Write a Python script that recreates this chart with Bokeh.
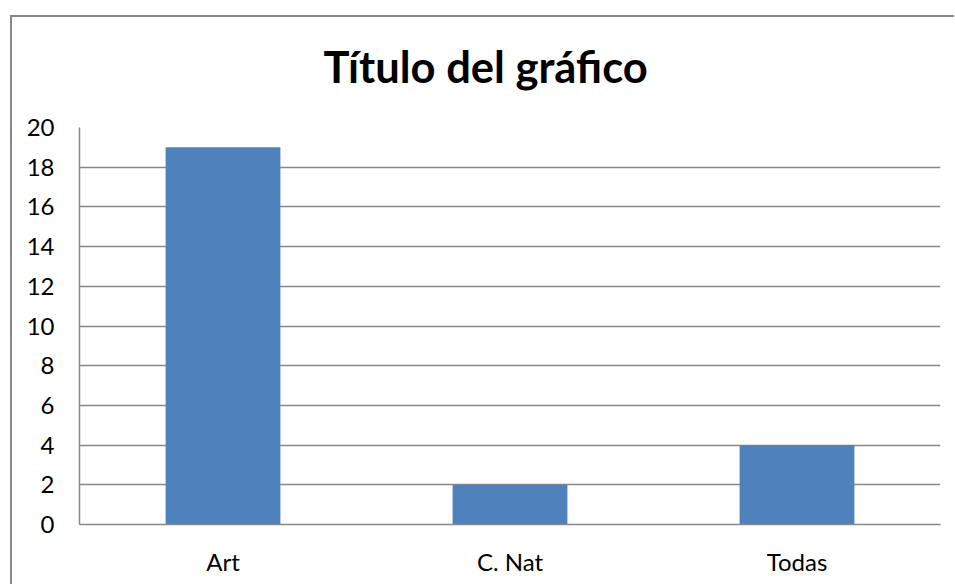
from bokeh.plotting import figure
from bokeh.embed import file_html
from bokeh.resources import INLINE
from bokeh.models import FactorRange, Range1d, SingleIntervalTicker

categories = ["Art", "C. Nat", "Todas"]
values = [19, 2, 4]
title_text = "Título del gráfico"

GRAY = "#888888"
FONT = "Lato"

p = figure(
    x_range=FactorRange(*categories, range_padding=0),
    y_range=Range1d(0, 20),
    width=954, height=584,
    output_backend="svg", toolbar_location=None,
    title=title_text,
    min_border_left=79, min_border_right=14, min_border_top=127, min_border_bottom=60,
)
p.margin = 0
p.background_fill_color = None
p.border_fill_color = None
p.toolbar.logo = None
# chart-area frame (left and top edges; right/bottom edges lie off-page)
p.styles = {
    "background-color": "white",
    "background-image": "linear-gradient(#878787, #878787), linear-gradient(#878787, #878787)",
    "background-size": "100% 2px, 2px 100%",
    "background-position": "10px 15px, 10px 15px",
    "background-repeat": "no-repeat",
    "overflow": "hidden",
}

p.vbar(x=categories, top=values, width=0.4, fill_color="#4F81BD", line_color=None)

p.title.align = "left"
p.title.offset = 244
p.title.vertical_align = "top"
p.title.standoff = 68
p.title.text_font = FONT
p.title.text_font_size = "43.5px"
p.title.text_font_style = "bold"
p.title.text_color = "black"

p.outline_line_color = None
p.xgrid.grid_line_color = None
p.ygrid.grid_line_color = GRAY
p.ygrid.grid_line_width = 1.5
p.yaxis.ticker = SingleIntervalTicker(interval=2)

for ax in (p.xaxis, p.yaxis):
    ax.axis_line_color = GRAY
    ax.axis_line_width = 1.5
    ax.major_tick_line_color = None
    ax.minor_tick_line_color = None
    ax.major_label_text_font = FONT
    ax.major_label_text_font_size = "24px"
    ax.major_label_text_color = "black"

p.yaxis.major_label_standoff = 19
p.xaxis.major_label_standoff = 16

open("out.html", "w").write(file_html(p, INLINE))
